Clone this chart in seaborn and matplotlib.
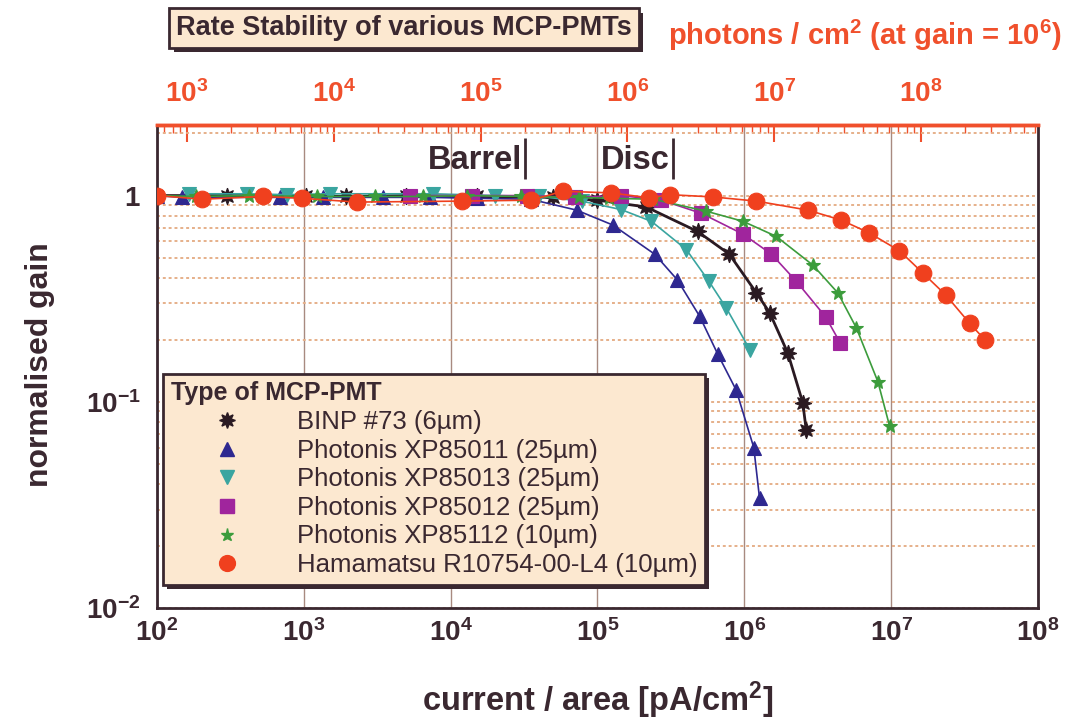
import numpy as np
import pandas as pd
import matplotlib
matplotlib.use("Agg")
import matplotlib.pyplot as plt
import matplotlib.patheffects as pe
from matplotlib.lines import Line2D
from matplotlib.ticker import FixedLocator, FixedFormatter, LogLocator, NullFormatter
import seaborn as sns

# ---------------- data ----------------
binp_x = [100, 300, 1040, 1950, 5000, 1.5e4, 5e4, 1.0e5, 2.15e5, 4.8e5, 7.9e5, 1.21e6, 1.49e6, 1.98e6, 2.5e6, 2.64e6]
binp_y = [1.0, 1.0, 1.0, 0.99, 1.0, 0.99, 0.98, 0.95, 0.88, 0.67, 0.52, 0.337, 0.27, 0.172, 0.099, 0.073]

xp85011_x = [100, 147, 684, 1340, 3440, 7200, 1.5e4, 3.5e4, 7.2e4, 1.27e5, 2.45e5, 3.5e5, 4.96e5, 6.6e5, 8.8e5, 1.16e6, 1.27e6]
xp85011_y = [1.0, 0.98, 0.98, 0.98, 0.98, 0.98, 0.97, 0.96, 0.85, 0.72, 0.52, 0.39, 0.26, 0.17, 0.114, 0.06, 0.034]

xp85013_x = [166, 408, 762, 1500, 7580, 2.0e4, 4.0e4, 7.8e4, 1.45e5, 2.33e5, 4.03e5, 5.74e5, 7.54e5, 1.09e6]
xp85013_y = [1.02, 1.02, 1.01, 1.02, 1.02, 1.0, 0.99, 0.94, 0.855, 0.75, 0.547, 0.384, 0.285, 0.179]

xp85012_x = [5260, 1.4e4, 3.3e4, 7.0e4, 1.45e5, 2.72e5, 5.1e5, 9.8e5, 1.53e6, 2.26e6, 3.58e6, 4.5e6]
xp85012_y = [1.0, 1.0, 1.0, 0.98, 1.0, 0.95, 0.82, 0.65, 0.52, 0.384, 0.258, 0.193]

xp85112_x = [100, 185, 426, 1220, 3030, 6440, 1.3e4, 3.0e4, 7.5e4, 1.2e5, 2.4e5, 5.5e5, 9.8e5, 1.65e6, 2.93e6, 4.34e6, 5.8e6, 8.13e6, 9.77e6]
xp85112_y = [1.0, 0.99, 1.0, 0.99, 0.99, 0.99, 1.0, 0.99, 0.98, 0.97, 0.96, 0.84, 0.75, 0.634, 0.46, 0.337, 0.228, 0.125, 0.076]

hama_x = [100, 204, 523, 979, 2290, 1.2e4, 3.55e4, 5.8e4, 1.24e5, 2.26e5, 3.1e5, 6.1e5, 1.21e6, 2.71e6, 4.58e6, 7.06e6, 1.14e7, 1.65e7, 2.35e7, 3.43e7, 4.34e7]
hama_y = [1.0, 0.96, 0.99, 0.97, 0.93, 0.94, 0.95, 1.05, 1.03, 0.975, 1.01, 0.985, 0.94, 0.85, 0.76, 0.66, 0.54, 0.42, 0.33, 0.24, 0.20]

series_labels = [
    "BINP #73 (6µm)",
    "Photonis XP85011 (25µm)",
    "Photonis XP85013 (25µm)",
    "Photonis XP85012 (25µm)",
    "Photonis XP85112 (10µm)",
    "Hamamatsu R10754-00-L4 (10µm)",
]

x_ticks = [1e2, 1e3, 1e4, 1e5, 1e6, 1e7, 1e8]
x_tick_labels = [r"$\mathbf{10^{2}}$", r"$\mathbf{10^{3}}$", r"$\mathbf{10^{4}}$", r"$\mathbf{10^{5}}$",
                 r"$\mathbf{10^{6}}$", r"$\mathbf{10^{7}}$", r"$\mathbf{10^{8}}$"]
y_ticks = [1e-2, 1e-1, 1]
y_tick_labels = [r"$\mathbf{10^{-2}}$", r"$\mathbf{10^{-1}}$", r"$\mathbf{1}$"]
top_ticks = [1e3, 1e4, 1e5, 1e6, 1e7, 1e8]
top_tick_labels = [r"$\mathbf{10^{3}}$", r"$\mathbf{10^{4}}$", r"$\mathbf{10^{5}}$",
                   r"$\mathbf{10^{6}}$", r"$\mathbf{10^{7}}$", r"$\mathbf{10^{8}}$"]
photons_per_pA = 6.25      # photons/cm^2 per pA/cm^2 at gain 1e6
barrel_x = 3.2e4
disc_x = 3.25e5

# ---------------- style ----------------
sns.set_theme(style="white")
plt.rcParams["font.family"] = ["Liberation Sans", "DejaVu Sans"]
plt.rcParams["mathtext.fontset"] = "custom"
plt.rcParams["mathtext.rm"] = "Liberation Sans"
plt.rcParams["mathtext.bf"] = "Liberation Sans:bold"
plt.rcParams["mathtext.it"] = "Liberation Sans:italic"

dark = "#3a2830"
red = "#f0502c"
box_face = "#fce8d0"

fig = plt.figure(figsize=(10.66, 7.21), dpi=100)
ax = fig.add_axes([0.1473, 0.1567, 0.8264, 0.67])

series = [
    (binp_x, binp_y, "#2a1a22", (8, 1, 0), 12, 2.0),
    (xp85011_x, xp85011_y, "#2e2890", "^", 10, 1.2),
    (xp85013_x, xp85013_y, "#3aa5a0", "v", 10, 1.2),
    (xp85012_x, xp85012_y, "#a0259d", "s", 10, 1.2),
    (xp85112_x, xp85112_y, "#3c9c3c", "*", 10, 1.2),
    (hama_x, hama_y, "#f0401e", "o", 12, 1.2),
]

for xs, ys, c, m, ms, lw in series:
    sns.lineplot(x=xs, y=ys, ax=ax, color=c, marker=m, markersize=ms, linewidth=lw,
                 markeredgecolor=c, markeredgewidth=0.8, sort=False, estimator=None,
                 legend=False, zorder=3)

ax.set_xscale("log")
ax.set_yscale("log")
ax.set_xlim(1e2, 1e8)
ax.set_ylim(1e-2, 2.2)

ax.xaxis.set_major_locator(FixedLocator(x_ticks))
ax.xaxis.set_major_formatter(FixedFormatter(x_tick_labels))
ax.xaxis.set_minor_locator(LogLocator(base=10, subs=np.arange(2, 10)))
ax.xaxis.set_minor_formatter(NullFormatter())
ax.yaxis.set_major_locator(FixedLocator(y_ticks))
ax.yaxis.set_major_formatter(FixedFormatter(y_tick_labels))
ax.yaxis.set_minor_locator(LogLocator(base=10, subs=np.arange(2, 10)))
ax.yaxis.set_minor_formatter(NullFormatter())

ax.grid(False)
ax.xaxis.grid(True, which="major", color="#a88a80", lw=1.0, zorder=0)
ax.yaxis.grid(True, which="both", color="#e6b08a", lw=1.4, ls=(0, (1.5, 1.5)), zorder=0)
ax.set_axisbelow(True)

ax.tick_params(axis="both", which="major", direction="in", length=10, width=1.5,
               colors=dark, labelsize=20)
ax.tick_params(axis="both", which="minor", direction="in", length=5, width=1.0, colors=dark)
ax.tick_params(axis="x", which="both", top=False, pad=8)
ax.tick_params(axis="y", which="both", right=False, pad=12)

for s in ["left", "bottom", "right"]:
    ax.spines[s].set_color(dark)
    ax.spines[s].set_linewidth(2)
ax.spines["top"].set_color(red)
ax.spines["top"].set_linewidth(2.5)

# secondary (top) axis: photons / cm^2
sec = ax.secondary_xaxis("top", functions=(lambda x: x * photons_per_pA, lambda x: x / photons_per_pA))
sec.xaxis.set_major_locator(FixedLocator(top_ticks))
sec.xaxis.set_major_formatter(FixedFormatter(top_tick_labels))
sec.xaxis.set_minor_locator(LogLocator(base=10, subs=np.arange(2, 10)))
sec.xaxis.set_minor_formatter(NullFormatter())
sec.tick_params(axis="x", which="major", direction="in", length=12, width=1.5, colors=red,
                labelcolor=red, labelsize=20, pad=12)
sec.tick_params(axis="x", which="minor", direction="in", length=6, width=1.0, colors=red)
sec.spines["top"].set_color(red)
sec.spines["top"].set_linewidth(2.5)

# Barrel / Disc markers
ax.vlines([barrel_x, disc_x], 1.2, 1.9, color=dark, lw=2, zorder=4)
for xv, lab in [(barrel_x, "Barrel"), (disc_x, "Disc")]:
    ax.annotate(lab, xy=(xv, 1.48), xytext=(-2, 0), textcoords="offset points",
                ha="right", va="center", fontsize=23.5, fontweight="bold", color=dark)

# axis labels
ax.set_xlabel(r"current / area [pA/cm$^{\mathbf{2}}$]", fontsize=23.5, fontweight="bold", color=dark)
ax.xaxis.label.set_va("center")
ax.xaxis.set_label_coords(0.5, -0.19)
ax.set_ylabel("normalised gain", fontsize=23, fontweight="bold", color=dark)
ax.yaxis.label.set_va("center")
ax.yaxis.set_label_coords(-0.133, 0.503)

# legend
handles = [Line2D([], [], ls="none", marker=m, color=c, markeredgecolor=c,
                  markersize=ms * 0.95) for (_, _, c, m, ms, _) in series]
leg = ax.legend(handles, series_labels, title="Type of MCP-PMT", loc="lower left",
                bbox_to_anchor=(0.007, 0.048), borderaxespad=0, fontsize=18.5,
                title_fontproperties={"weight": "bold", "size": 18}, alignment="left",
                handlelength=4.4, handletextpad=0.5, borderpad=0.3, labelspacing=0.18,
                fancybox=False, framealpha=1, facecolor=box_face, edgecolor=dark)
leg.get_frame().set_linewidth(2)
leg.get_frame().set_path_effects([pe.SimplePatchShadow(offset=(3, -3), shadow_rgbFace=dark, alpha=1),
                                  pe.Normal()])
for t in leg.get_texts():
    t.set_color(dark)
leg.get_title().set_color(dark)
leg.set_zorder(5)

# title box
title = fig.text(0.379, 0.961, "Rate Stability of various MCP-PMTs", ha="center", va="center",
                 fontsize=19.5, fontweight="bold", color=dark,
                 bbox=dict(boxstyle="square,pad=0.25", fc=box_face, ec=dark, lw=2))
title.get_bbox_patch().set_path_effects([pe.SimplePatchShadow(offset=(3, -3), shadow_rgbFace=dark, alpha=1),
                                         pe.Normal()])

fig.text(0.627, 0.951, r"photons / cm$^{\mathbf{2}}$ (at gain = 10$^{\mathbf{6}}$)", ha="left",
         va="center", fontsize=21, fontweight="bold", color=red)

fig.savefig("out.png", dpi=100)
